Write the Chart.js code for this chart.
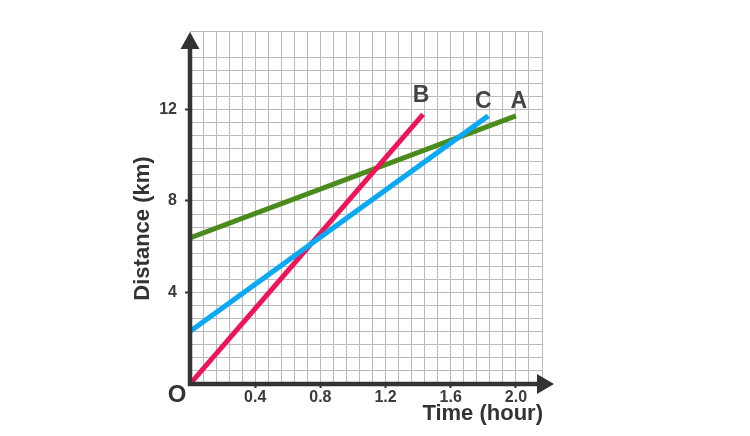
<!DOCTYPE html>
<html>
<head>
<meta charset="utf-8">
<script src="https://cdn.jsdelivr.net/npm/chart.js@4"></script>
<style>
  html, body { margin: 0; padding: 0; background: #fff; }
  #wrap { width: 750px; height: 436px; }
</style>
</head>
<body>
<div id="wrap"><canvas id="distanceChart"></canvas></div>
<script>
// line names and their start / end points (time in hours, distance in km)
const lineNames = ["A", "B", "C"];
const timeA = [0, 2.0];
const distA = [6.38, 11.72];
const timeB = [0, 1.43];
const distB = [0, 11.78];
const timeC = [0, 1.83];
const distC = [2.3, 11.72];

// axis ranges and tick labels
const xMax = 2.16;          // 27 grid cells of 0.08 h
const xStep = 0.08;
const yMax = 27 * 4 / 7;    // 27 grid cells of 4/7 km
const yStep = 4 / 7;
const xTickLabels = ["0.4", "0.8", "1.2", "1.6", "2.0"];
const yTickLabels = ["4", "8", "12"];

const lineColors = { A: "#4b8a1c", B: "#ee1458", C: "#0aa9f4" };
// where each letter sits relative to the end of its line
const letterOffsets = { A: [3, -14], B: [-2, -19], C: [-5, -14] };

const axisColor = "#333333";
const fontFamily = "'Liberation Sans', Arial, sans-serif";

function toPoints(xs, ys) {
    return xs.map((x, i) => ({ x: x, y: ys[i] }));
}

const series = {
    A: toPoints(timeA, distA),
    B: toPoints(timeB, distB),
    C: toPoints(timeC, distC)
};

// which tick index gets a label (every 5th on x, every 7th on y)
function xLabelAt(index) {
    return index > 0 && index % 5 === 0 ? xTickLabels[index / 5 - 1] : "";
}
function yLabelAt(index) {
    return index > 0 && index % 7 === 0 ? yTickLabels[index / 7 - 1] : "";
}

// draws the axis arrows, axis titles, the origin "O" and the line letters
const decorations = {
    id: "decorations",
    afterDatasetsDraw(chart) {
        const ctx = chart.ctx;
        const area = chart.chartArea;
        const xs = chart.scales.x;
        const ys = chart.scales.y;
        const ox = xs.getPixelForValue(0);
        const oy = ys.getPixelForValue(0);

        ctx.save();
        // axis lines
        ctx.strokeStyle = axisColor;
        ctx.fillStyle = axisColor;
        ctx.lineWidth = 4.5;
        ctx.lineCap = "butt";
        ctx.beginPath();
        ctx.moveTo(ox, oy + 2);
        ctx.lineTo(ox, area.top + 14);
        ctx.moveTo(ox - 2, oy);
        ctx.lineTo(area.right + 2, oy);
        ctx.stroke();

        // arrow heads
        ctx.beginPath();
        ctx.moveTo(ox, area.top + 1);
        ctx.lineTo(ox - 9.5, area.top + 18);
        ctx.lineTo(ox + 9.5, area.top + 18);
        ctx.closePath();
        ctx.fill();
        ctx.beginPath();
        ctx.moveTo(area.right + 12, oy);
        ctx.lineTo(area.right - 5, oy - 10);
        ctx.lineTo(area.right - 5, oy + 10);
        ctx.closePath();
        ctx.fill();

        // axis titles
        ctx.fillStyle = "#333333";
        ctx.font = "bold 22px " + fontFamily;
        ctx.textAlign = "right";
        ctx.textBaseline = "middle";
        ctx.fillText("Time (hour)", area.right + 1, oy + 30);

        ctx.save();
        ctx.translate(ox - 47, (area.top + area.bottom) / 2 + 21);
        ctx.rotate(-Math.PI / 2);
        ctx.textAlign = "center";
        ctx.fillText("Distance (km)", 0, 0);
        ctx.restore();

        // origin
        ctx.font = "bold 24px " + fontFamily;
        ctx.textAlign = "center";
        ctx.fillText("O", ox - 13, oy + 11);

        // line letters
        ctx.fillStyle = "#444444";
        ctx.font = "bold 23px " + fontFamily;
        lineNames.forEach(name => {
            const pts = series[name];
            const end = pts[pts.length - 1];
            const off = letterOffsets[name];
            ctx.fillText(name, xs.getPixelForValue(end.x) + off[0], ys.getPixelForValue(end.y) + off[1]);
        });
        ctx.restore();
    }
};

new Chart(document.querySelector("#distanceChart"), {
    type: "line",
    data: {
        datasets: lineNames.map((name, i) => ({
            label: name,
            data: series[name],
            borderColor: lineColors[name],
            borderWidth: 5,
            pointRadius: 0,
            fill: false,
            tension: 0,
            // A below, then B, then C on top
            order: 3 - i
        }))
    },
    plugins: [decorations],
    options: {
        responsive: true,
        maintainAspectRatio: false,
        animation: false,
        layout: { padding: { left: 0, top: 31, right: 208, bottom: 0 } },
        plugins: {
            legend: { display: false },
            tooltip: { enabled: false }
        },
        scales: {
            x: {
                type: "linear",
                min: 0,
                max: xMax,
                afterFit: scale => { scale.height = 52; },
                border: { display: false },
                grid: {
                    color: "#bababa",
                    lineWidth: 1,
                    tickLength: 4,
                    tickColor: c => xLabelAt(c.index) ? axisColor : "rgba(0,0,0,0)",
                    tickWidth: 2
                },
                ticks: {
                    stepSize: xStep,
                    autoSkip: false,
                    maxRotation: 0,
                    padding: 0,
                    color: "#3a3a3a",
                    font: { family: fontFamily, size: 16, weight: "bold" },
                    callback: (value, index) => xLabelAt(index)
                }
            },
            y: {
                type: "linear",
                min: 0,
                max: yMax,
                afterFit: scale => { scale.width = 190; },
                border: { display: false },
                grid: {
                    color: "#bababa",
                    lineWidth: 1,
                    tickLength: 5,
                    tickColor: c => yLabelAt(c.index) ? axisColor : "rgba(0,0,0,0)",
                    tickWidth: 2
                },
                ticks: {
                    stepSize: yStep,
                    autoSkip: false,
                    padding: 8,
                    color: "#3a3a3a",
                    font: { family: fontFamily, size: 16, weight: "bold" },
                    callback: (value, index) => yLabelAt(index)
                }
            }
        }
    }
});
</script>
</body>
</html>
